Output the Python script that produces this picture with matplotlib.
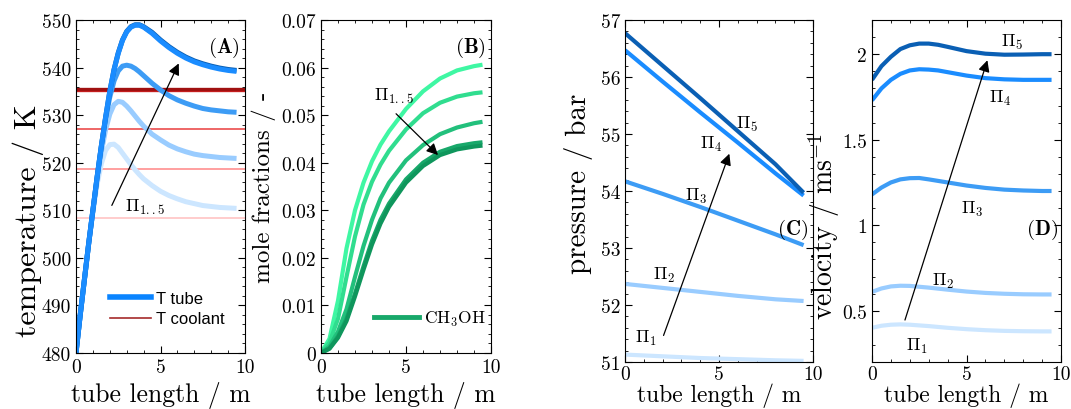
import matplotlib
matplotlib.use("Agg")
import matplotlib.pyplot as plt
from matplotlib.ticker import MultipleLocator, FuncFormatter

plt.rcParams["font.family"] = "cmr10"
plt.rcParams["mathtext.fontset"] = "cm"
plt.rcParams["axes.formatter.use_mathtext"] = True

# =========================
# DATA
# =========================
# (A) tube temperature, K
x_a = [0, 0.25, 0.5, 0.75, 1.0, 1.25, 1.5, 1.75, 2.0, 2.25, 2.5, 2.75, 3.0, 3.25,
       3.5, 3.75, 4.0, 4.5, 5.0, 5.5, 6.0, 6.5, 7.0, 7.5, 8.0, 8.5, 9.0, 9.5]
t_tube = [
    [480, 488, 495.5, 503, 509.5, 515.5, 519.8, 522.6, 523.8, 523.9, 523.2, 522.0, 520.8, 519.6,
     518.5, 517.5, 516.6, 515.2, 514.0, 513.1, 512.4, 511.8, 511.4, 511.0, 510.8, 510.6, 510.5, 510.4],
    [480, 488, 495.5, 503, 510, 516.5, 522.3, 526.9, 530.2, 532.2, 532.9, 532.7, 531.9, 530.9,
     529.8, 528.7, 527.7, 526.0, 524.8, 523.7, 522.9, 522.3, 521.8, 521.5, 521.3, 521.1, 521.0, 520.9],
    [480, 488, 495.5, 503, 510, 517, 523.5, 529.2, 533.8, 537.2, 539.3, 540.3, 540.5, 540.3,
     539.8, 539.1, 538.3, 536.7, 535.3, 534.1, 533.2, 532.5, 531.9, 531.4, 531.1, 530.9, 530.7, 530.6],
    [480, 488, 495.5, 503, 510, 517, 523.5, 529.5, 535.0, 539.5, 543.0, 545.7, 547.5, 548.5,
     548.9, 548.9, 548.5, 547.2, 545.6, 544.2, 543.0, 542.0, 541.2, 540.6, 540.1, 539.7, 539.4, 539.2],
    [480, 488, 495.5, 503, 510, 517, 523.5, 529.5, 535.0, 539.6, 543.1, 545.8, 547.6, 548.6,
     549.0, 549.0, 548.6, 547.4, 545.8, 544.4, 543.2, 542.2, 541.4, 540.8, 540.3, 539.9, 539.6, 539.4],
]
t_coolant = [508.4, 518.6, 527.0, 535.2, 535.5]

# (B) CH3OH mole fraction, -
x_b = [0, 0.5, 1.0, 1.5, 2.0, 2.5, 3.0, 3.5, 4.0, 5.0, 6.0, 7.0, 8.0, 9.0, 9.5]
x_meoh = [
    [0, 0.0030, 0.0110, 0.0220, 0.0300, 0.0358, 0.0403, 0.0438, 0.0466, 0.0513, 0.0550, 0.0577, 0.0594, 0.0603, 0.0606],
    [0, 0.0022, 0.0072, 0.0160, 0.0245, 0.0312, 0.0360, 0.0396, 0.0425, 0.0470, 0.0504, 0.0526, 0.0539, 0.0546, 0.0548],
    [0, 0.0014, 0.0045, 0.0092, 0.0160, 0.0225, 0.0280, 0.0325, 0.0358, 0.0405, 0.0437, 0.0460, 0.0474, 0.0483, 0.0486],
    [0, 0.0010, 0.0035, 0.0072, 0.0125, 0.0182, 0.0236, 0.0280, 0.0314, 0.0365, 0.0400, 0.0423, 0.0435, 0.0441, 0.0443],
    [0, 0.0009, 0.0032, 0.0067, 0.0119, 0.0175, 0.0228, 0.0272, 0.0307, 0.0358, 0.0393, 0.0416, 0.0428, 0.0434, 0.0436],
]

# (C) pressure, bar
x_c = [0, 2, 4, 6, 8, 9.5]
p_bar = [
    [51.13, 51.10, 51.07, 51.05, 51.03, 51.02],
    [52.37, 52.30, 52.23, 52.16, 52.10, 52.07],
    [54.17, 53.95, 53.72, 53.48, 53.24, 53.05],
    [56.47, 55.92, 55.38, 54.85, 54.31, 53.92],
    [56.77, 56.20, 55.63, 55.05, 54.47, 53.97],
]

# (D) velocity, m/s
x_d = [0, 0.5, 1.0, 1.5, 2.0, 2.5, 3.0, 3.5, 4.0, 5.0, 6.0, 7.0, 8.0, 9.0, 9.5]
vel = [
    [0.400, 0.412, 0.418, 0.420, 0.418, 0.414, 0.410, 0.405, 0.400, 0.392, 0.386, 0.382, 0.380, 0.379, 0.379],
    [0.610, 0.630, 0.642, 0.646, 0.645, 0.640, 0.635, 0.629, 0.623, 0.612, 0.604, 0.599, 0.596, 0.595, 0.595],
    [1.180, 1.220, 1.250, 1.268, 1.275, 1.276, 1.268, 1.259, 1.250, 1.232, 1.218, 1.208, 1.203, 1.200, 1.200],
    [1.730, 1.800, 1.850, 1.885, 1.905, 1.912, 1.910, 1.905, 1.895, 1.875, 1.860, 1.853, 1.850, 1.850, 1.850],
    [1.850, 1.930, 1.985, 2.030, 2.052, 2.062, 2.062, 2.055, 2.043, 2.018, 2.003, 1.997, 1.998, 2.000, 2.000],
]
pi_labels = [r"$\Pi_1$", r"$\Pi_2$", r"$\Pi_3$", r"$\Pi_4$", r"$\Pi_5$"]

blues = ["#cce6ff", "#99ccff", "#3d9cf5", "#1a8cff", "#0a5fb4"]
greens = ["#3ff7a3", "#30dd8f", "#22c07c", "#18a86a", "#0f965c"]
reds = ["#ffcccc", "#ff9f9f", "#ee6666", "#cc2222", "#a01010"]

W, H = 1071, 410
fig = plt.figure(figsize=(W / 100, H / 100), dpi=100)


def box(l, r, t, b):
    return [l / W, 1 - b / H, (r - l) / W, (b - t) / H]


plain = FuncFormatter(lambda v, p: "%g" % round(v, 6))


def style(ax, ymaj, ymin, pad=4, xsize=18.5, xtickpad=3.5):
    ax.xaxis.set_major_locator(MultipleLocator(5))
    ax.xaxis.set_minor_locator(MultipleLocator(1))
    ax.yaxis.set_major_locator(MultipleLocator(ymaj))
    ax.yaxis.set_minor_locator(MultipleLocator(ymin))
    ax.xaxis.set_major_formatter(plain)
    ax.yaxis.set_major_formatter(plain)
    ax.tick_params(which="both", direction="in", top=True, right=True, labelsize=14)
    ax.tick_params(which="major", length=5, width=0.8)
    ax.tick_params(which="minor", length=2.5, width=0.6)
    ax.tick_params(axis="x", which="major", pad=xtickpad)
    ax.set_xlim(0, 10)
    ax.set_xlabel("tube length / m", fontsize=xsize, labelpad=pad)


pi_kw = dict(fontsize=13)
arrow = dict(arrowstyle="-|>", color="k", lw=0.9, mutation_scale=17)

# ---- (A)
axA = fig.add_axes(box(76, 245, 21, 354))
for i in range(5):
    axA.axhline(t_coolant[i], color=reds[i], lw=2.4 if i >= 3 else 1.4, zorder=1)
for i in [0, 1, 2, 4, 3]:
    axA.plot(x_a, t_tube[i], color=blues[i], lw=3.6, solid_capstyle="butt", zorder=2)
axA.set_ylim(480, 550)
style(axA, 10, 2)
axA.set_ylabel("temperature / K", fontsize=23)
axA.yaxis.set_label_coords(-0.19, 0.40)
axA.annotate("", xy=(6.15, 541.4), xytext=(2.05, 510.5), arrowprops=arrow)
axA.text(2.9, 509.8, r"$\Pi_{1..5}$", **pi_kw)
axA.text(0.97, 0.955, r"$(\mathbf{A})$", transform=axA.transAxes, ha="right", va="top", fontsize=15)
hT, = axA.plot([], [], color="#0a84ff", lw=4)
hC, = axA.plot([], [], color="#a52a2a", lw=1.2)
axA.legend([hT, hC], ["T tube", "T coolant"], loc="lower left", bbox_to_anchor=(0.2, 0.08),
           borderaxespad=0, borderpad=0, frameon=False, handlelength=2.5, handletextpad=0.3,
           labelspacing=0.35, prop={"family": "Liberation Sans", "size": 12})

# ---- (B)
axB = fig.add_axes(box(321, 491, 21, 354))
for i in range(5):
    axB.plot(x_b, x_meoh[i], color=greens[i], lw=3.0, solid_capstyle="butt")
axB.set_ylim(0, 0.07)
style(axB, 0.01, 0.002)
axB.set_ylabel("mole fractions / -", fontsize=18)
axB.yaxis.set_label_coords(-0.265, 0.50)
axB.annotate("", xy=(7.0, 0.0412), xytext=(4.3, 0.0507), arrowprops=arrow)
axB.text(4.3, 0.0532, r"$\Pi_{1..5}$", ha="center", **pi_kw)
axB.text(0.97, 0.955, r"$(\mathbf{B})$", transform=axB.transAxes, ha="right", va="top", fontsize=15)
hM, = axB.plot([], [], color=greens[3], lw=3.5)
axB.legend([hM], [r"$\mathrm{CH_3OH}$"], loc="lower left", bbox_to_anchor=(0.31, 0.075),
           borderaxespad=0, borderpad=0, frameon=False, handlelength=2.6, handletextpad=0.3,
           prop={"size": 12.5})

# ---- (C)
axC = fig.add_axes(box(625, 813, 21, 363))
for i in range(5):
    axC.plot(x_c, p_bar[i], color=blues[i], lw=3.0, solid_capstyle="butt")
axC.set_ylim(51, 57)
style(axC, 1, 0.2, pad=0, xsize=17, xtickpad=2)
axC.set_ylabel("pressure / bar", fontsize=21)
axC.yaxis.set_label_coords(-0.17, 0.525)
axC.annotate("", xy=(5.6, 54.7), xytext=(2.0, 51.42), arrowprops=arrow)
for lab, (xx, yy) in zip(pi_labels, [(0.55, 51.35), (1.5, 52.45), (3.2, 53.85), (4.0, 54.75), (5.9, 55.1)]):
    axC.text(xx, yy, lab, **pi_kw)
axC.text(0.975, 0.39, r"$(\mathbf{C})$", transform=axC.transAxes, ha="right", va="center", fontsize=15)

# ---- (D)
axD = fig.add_axes(box(872, 1061, 21, 363))
for i in range(5):
    axD.plot(x_d, vel[i], color=blues[i], lw=3.0, solid_capstyle="butt")
axD.set_ylim(0.2, 2.2)
style(axD, 0.5, 0.1, pad=0, xsize=17, xtickpad=2)
axD.set_ylabel(r"velocity / ms$^{-1}$", fontsize=20)
axD.yaxis.set_label_coords(-0.16, 0.40)
axD.annotate("", xy=(6.15, 1.98), xytext=(1.7, 0.43), arrowprops=arrow)
for lab, (xx, yy) in zip(pi_labels, [(1.8, 0.27), (3.2, 0.65), (4.7, 1.07), (6.2, 1.72), (6.8, 2.05)]):
    axD.text(xx, yy, lab, **pi_kw)
axD.text(0.985, 0.39, r"$(\mathbf{D})$", transform=axD.transAxes, ha="right", va="center", fontsize=15)

fig.savefig("out.png", dpi=100)
